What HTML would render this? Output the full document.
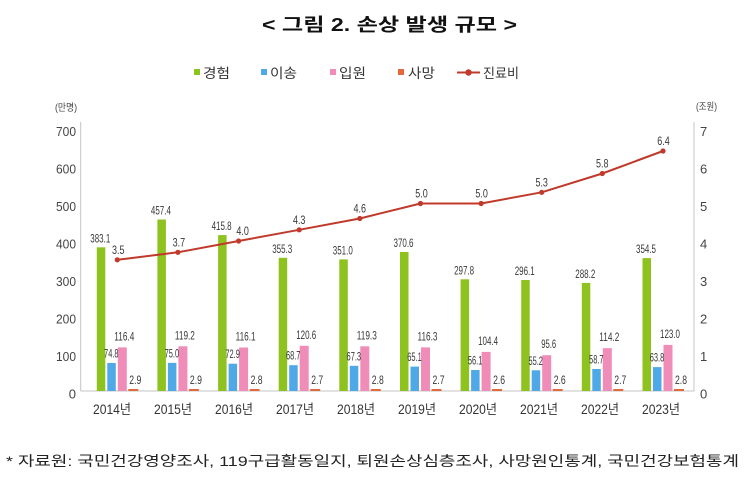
<!DOCTYPE html>
<html><head><meta charset="utf-8"><style>
html,body{margin:0;padding:0;background:#fff;}
svg{display:block;}
text{font-family:"Liberation Sans","Noto Sans CJK KR",sans-serif;}
.v{font-size:12px;fill:#383838;text-anchor:middle;}
.t{font-size:13px;fill:#444;}
.x{font-size:13.5px;fill:#333;}
.lg{font-size:13.5px;fill:#333;}
</style></head><body>
<svg width="745" height="478" viewBox="0 0 745 478" xmlns="http://www.w3.org/2000/svg">
<rect width="745" height="478" fill="#fff"/>
<!-- Title -->
<text x="262" y="31" font-size="18" font-weight="bold" fill="#111" textLength="255" lengthAdjust="spacingAndGlyphs">&lt; 그림 2. 손상 발생 규모 &gt;</text>

<!-- Legend -->
<rect x="194" y="69" width="6" height="6" fill="#8dc21f"/>
<text class="lg" x="203" y="78" textLength="27" lengthAdjust="spacingAndGlyphs">경험</text>
<rect x="261" y="69" width="6" height="6" fill="#4ea9e6"/>
<text class="lg" x="270" y="78" textLength="27" lengthAdjust="spacingAndGlyphs">이송</text>
<rect x="330" y="69" width="6" height="6" fill="#f08cb8"/>
<text class="lg" x="339" y="78" textLength="27" lengthAdjust="spacingAndGlyphs">입원</text>
<rect x="398" y="69" width="6" height="6" fill="#e2693a"/>
<text class="lg" x="408" y="78" textLength="27" lengthAdjust="spacingAndGlyphs">사망</text>
<line x1="457" y1="72.5" x2="480" y2="72.5" stroke="#c0392b" stroke-width="2"/>
<circle cx="468.5" cy="72.5" r="3.2" fill="#c0392b"/>
<text class="lg" x="483" y="78" textLength="36" lengthAdjust="spacingAndGlyphs">진료비</text>

<!-- Unit labels -->
<text x="55" y="111" font-size="10" fill="#444" textLength="22" lengthAdjust="spacingAndGlyphs">(만명)</text>
<text x="696" y="110" font-size="10" fill="#444" textLength="21" lengthAdjust="spacingAndGlyphs">(조원)</text>

<!-- Axes -->
<line x1="80.7" y1="122" x2="80.7" y2="391" stroke="#c4c4c4" stroke-width="1"/>
<line x1="694" y1="122" x2="694" y2="391" stroke="#c4c4c4" stroke-width="1"/>
<line x1="80.7" y1="391" x2="694" y2="391" stroke="#c4c4c4" stroke-width="1"/>

<!-- Left ticks -->
<g class="t" text-anchor="end">
<text x="76" y="136.2" textLength="20" lengthAdjust="spacingAndGlyphs">700</text>
<text x="76" y="173.7" textLength="20" lengthAdjust="spacingAndGlyphs">600</text>
<text x="76" y="211.2" textLength="20" lengthAdjust="spacingAndGlyphs">500</text>
<text x="76" y="248.7" textLength="20" lengthAdjust="spacingAndGlyphs">400</text>
<text x="76" y="286.2" textLength="20" lengthAdjust="spacingAndGlyphs">300</text>
<text x="76" y="323.7" textLength="20" lengthAdjust="spacingAndGlyphs">200</text>
<text x="76" y="361.2" textLength="20" lengthAdjust="spacingAndGlyphs">100</text>
<text x="76" y="398.7">0</text>
</g>
<!-- Right ticks -->
<g class="t">
<text x="700" y="136.2">7</text>
<text x="700" y="173.7">6</text>
<text x="700" y="211.2">5</text>
<text x="700" y="248.7">4</text>
<text x="700" y="286.2">3</text>
<text x="700" y="323.7">2</text>
<text x="700" y="361.2">1</text>
<text x="700" y="398.7">0</text>
</g>

<!-- Bars -->
<g fill="#8dc21f">
<rect x="96.8" y="247.3" width="8.5" height="143.7"/>
<rect x="157.4" y="219.5" width="8.5" height="171.5"/>
<rect x="218.1" y="235.1" width="8.5" height="155.9"/>
<rect x="278.7" y="257.8" width="8.5" height="133.2"/>
<rect x="339.3" y="259.4" width="8.5" height="131.6"/>
<rect x="400.0" y="252.0" width="8.5" height="139.0"/>
<rect x="460.6" y="279.3" width="8.5" height="111.7"/>
<rect x="521.2" y="280.0" width="8.5" height="111.0"/>
<rect x="581.8" y="282.9" width="8.5" height="108.1"/>
<rect x="642.5" y="258.1" width="8.5" height="132.9"/>
</g>
<g fill="#4ea9e6">
<rect x="107.3" y="363.0" width="8.5" height="28.0"/>
<rect x="167.9" y="362.9" width="8.5" height="28.1"/>
<rect x="228.6" y="363.7" width="8.5" height="27.3"/>
<rect x="289.2" y="365.2" width="8.5" height="25.8"/>
<rect x="349.8" y="365.8" width="8.5" height="25.2"/>
<rect x="410.5" y="366.6" width="8.5" height="24.4"/>
<rect x="471.1" y="370.0" width="8.5" height="21.0"/>
<rect x="531.7" y="370.3" width="8.5" height="20.7"/>
<rect x="592.3" y="369.0" width="8.5" height="22.0"/>
<rect x="653.0" y="367.1" width="8.5" height="23.9"/>
</g>
<g fill="#f08cb8">
<rect x="117.8" y="347.4" width="9" height="43.6"/>
<rect x="178.4" y="346.3" width="9" height="44.7"/>
<rect x="239.1" y="347.5" width="9" height="43.5"/>
<rect x="299.7" y="345.8" width="9" height="45.2"/>
<rect x="360.3" y="346.3" width="9" height="44.7"/>
<rect x="421.0" y="347.4" width="9" height="43.6"/>
<rect x="481.6" y="351.9" width="9" height="39.1"/>
<rect x="542.2" y="355.2" width="9" height="35.8"/>
<rect x="602.8" y="348.2" width="9" height="42.8"/>
<rect x="663.5" y="344.9" width="9" height="46.1"/>
</g>
<g fill="#e2693a">
<rect x="128.3" y="389" width="10" height="2"/>
<rect x="188.9" y="389" width="10" height="2"/>
<rect x="249.6" y="389" width="10" height="2"/>
<rect x="310.2" y="389" width="10" height="2"/>
<rect x="370.8" y="389" width="10" height="2"/>
<rect x="431.5" y="389" width="10" height="2"/>
<rect x="492.1" y="389" width="10" height="2"/>
<rect x="552.7" y="389" width="10" height="2"/>
<rect x="613.3" y="389" width="10" height="2"/>
<rect x="674.0" y="389" width="10" height="2"/>
</g>

<!-- Bar value labels -->
<g class="v">
<text x="100.3" y="242.3" textLength="20" lengthAdjust="spacingAndGlyphs">383.1</text>
<text x="160.9" y="214.5" textLength="20" lengthAdjust="spacingAndGlyphs">457.4</text>
<text x="221.6" y="230.1" textLength="20" lengthAdjust="spacingAndGlyphs">415.8</text>
<text x="282.2" y="252.8" textLength="20" lengthAdjust="spacingAndGlyphs">355.3</text>
<text x="342.8" y="254.4" textLength="20" lengthAdjust="spacingAndGlyphs">351.0</text>
<text x="403.5" y="247.0" textLength="20" lengthAdjust="spacingAndGlyphs">370.6</text>
<text x="464.1" y="274.3" textLength="20" lengthAdjust="spacingAndGlyphs">297.8</text>
<text x="524.7" y="275.0" textLength="20" lengthAdjust="spacingAndGlyphs">296.1</text>
<text x="585.3" y="277.9" textLength="20" lengthAdjust="spacingAndGlyphs">288.2</text>
<text x="646.0" y="253.1" textLength="20" lengthAdjust="spacingAndGlyphs">354.5</text>

<text x="111.3" y="357.5" textLength="14.5" lengthAdjust="spacingAndGlyphs">74.8</text>
<text x="171.9" y="357.4" textLength="14.5" lengthAdjust="spacingAndGlyphs">75.0</text>
<text x="232.6" y="358.2" textLength="14.5" lengthAdjust="spacingAndGlyphs">72.9</text>
<text x="293.2" y="359.7" textLength="14.5" lengthAdjust="spacingAndGlyphs">68.7</text>
<text x="353.8" y="360.3" textLength="14.5" lengthAdjust="spacingAndGlyphs">67.3</text>
<text x="414.5" y="361.1" textLength="14.5" lengthAdjust="spacingAndGlyphs">65.1</text>
<text x="475.1" y="364.5" textLength="14.5" lengthAdjust="spacingAndGlyphs">56.1</text>
<text x="535.7" y="364.8" textLength="14.5" lengthAdjust="spacingAndGlyphs">55.2</text>
<text x="596.3" y="363.5" textLength="14.5" lengthAdjust="spacingAndGlyphs">58.7</text>
<text x="657.0" y="361.6" textLength="14.5" lengthAdjust="spacingAndGlyphs">63.8</text>

<text x="124.3" y="340.4" textLength="20" lengthAdjust="spacingAndGlyphs">116.4</text>
<text x="184.9" y="339.3" textLength="20" lengthAdjust="spacingAndGlyphs">119.2</text>
<text x="245.6" y="340.5" textLength="20" lengthAdjust="spacingAndGlyphs">116.1</text>
<text x="306.2" y="338.8" textLength="20" lengthAdjust="spacingAndGlyphs">120.6</text>
<text x="366.8" y="339.3" textLength="20" lengthAdjust="spacingAndGlyphs">119.3</text>
<text x="427.5" y="340.4" textLength="20" lengthAdjust="spacingAndGlyphs">116.3</text>
<text x="488.1" y="344.9" textLength="20" lengthAdjust="spacingAndGlyphs">104.4</text>
<text x="548.7" y="348.2" textLength="15" lengthAdjust="spacingAndGlyphs">95.6</text>
<text x="609.3" y="341.2" textLength="20" lengthAdjust="spacingAndGlyphs">114.2</text>
<text x="670.0" y="337.9" textLength="20" lengthAdjust="spacingAndGlyphs">123.0</text>

<text x="135.3" y="384" textLength="12" lengthAdjust="spacingAndGlyphs">2.9</text>
<text x="195.9" y="384" textLength="12" lengthAdjust="spacingAndGlyphs">2.9</text>
<text x="256.6" y="384" textLength="12" lengthAdjust="spacingAndGlyphs">2.8</text>
<text x="317.2" y="384" textLength="12" lengthAdjust="spacingAndGlyphs">2.7</text>
<text x="377.8" y="384" textLength="12" lengthAdjust="spacingAndGlyphs">2.8</text>
<text x="438.5" y="384" textLength="12" lengthAdjust="spacingAndGlyphs">2.7</text>
<text x="499.1" y="384" textLength="12" lengthAdjust="spacingAndGlyphs">2.6</text>
<text x="559.7" y="384" textLength="12" lengthAdjust="spacingAndGlyphs">2.6</text>
<text x="620.3" y="384" textLength="12" lengthAdjust="spacingAndGlyphs">2.7</text>
<text x="681.0" y="384" textLength="12" lengthAdjust="spacingAndGlyphs">2.8</text>
</g>

<!-- Line -->
<polyline fill="none" stroke="#c0392b" stroke-width="2" stroke-linejoin="round"
 points="117.3,259.8 177.9,252.3 238.6,241.0 299.2,229.8 359.8,218.5 420.5,203.5 481.1,203.5 541.7,192.3 602.3,173.5 663.0,151.0"/>
<g fill="#c0392b">
<circle cx="117.3" cy="259.8" r="2.6"/>
<circle cx="177.9" cy="252.3" r="2.6"/>
<circle cx="238.6" cy="241.0" r="2.6"/>
<circle cx="299.2" cy="229.8" r="2.6"/>
<circle cx="359.8" cy="218.5" r="2.6"/>
<circle cx="420.5" cy="203.5" r="2.6"/>
<circle cx="481.1" cy="203.5" r="2.6"/>
<circle cx="541.7" cy="192.3" r="2.6"/>
<circle cx="602.3" cy="173.5" r="2.6"/>
<circle cx="663.0" cy="151.0" r="2.6"/>
</g>
<g class="v">
<text x="118.3" y="253.8" textLength="12.5" lengthAdjust="spacingAndGlyphs">3.5</text>
<text x="178.9" y="246.3" textLength="12.5" lengthAdjust="spacingAndGlyphs">3.7</text>
<text x="242.6" y="235.0" textLength="12.5" lengthAdjust="spacingAndGlyphs">4.0</text>
<text x="299.2" y="223.8" textLength="12.5" lengthAdjust="spacingAndGlyphs">4.3</text>
<text x="359.8" y="212.5" textLength="12.5" lengthAdjust="spacingAndGlyphs">4.6</text>
<text x="421.5" y="197.5" textLength="12.5" lengthAdjust="spacingAndGlyphs">5.0</text>
<text x="481.6" y="197.5" textLength="12.5" lengthAdjust="spacingAndGlyphs">5.0</text>
<text x="541.7" y="186.3" textLength="12.5" lengthAdjust="spacingAndGlyphs">5.3</text>
<text x="602.3" y="167.5" textLength="12.5" lengthAdjust="spacingAndGlyphs">5.8</text>
<text x="663.5" y="145.0" textLength="12.5" lengthAdjust="spacingAndGlyphs">6.4</text>
</g>

<!-- X labels -->
<g class="x" text-anchor="middle">
<text x="112" y="414" textLength="38" lengthAdjust="spacingAndGlyphs">2014년</text>
<text x="173" y="414" textLength="38" lengthAdjust="spacingAndGlyphs">2015년</text>
<text x="234" y="414" textLength="38" lengthAdjust="spacingAndGlyphs">2016년</text>
<text x="295" y="414" textLength="38" lengthAdjust="spacingAndGlyphs">2017년</text>
<text x="356" y="414" textLength="38" lengthAdjust="spacingAndGlyphs">2018년</text>
<text x="417" y="414" textLength="38" lengthAdjust="spacingAndGlyphs">2019년</text>
<text x="478" y="414" textLength="38" lengthAdjust="spacingAndGlyphs">2020년</text>
<text x="539" y="414" textLength="38" lengthAdjust="spacingAndGlyphs">2021년</text>
<text x="600" y="414" textLength="38" lengthAdjust="spacingAndGlyphs">2022년</text>
<text x="661" y="414" textLength="38" lengthAdjust="spacingAndGlyphs">2023년</text>
</g>

<!-- Footnote -->
<text x="6" y="466" font-size="14" fill="#222" textLength="733" lengthAdjust="spacingAndGlyphs">* 자료원: 국민건강영양조사, 119구급활동일지, 퇴원손상심층조사, 사망원인통계, 국민건강보험통계</text>
</svg>
</body></html>
